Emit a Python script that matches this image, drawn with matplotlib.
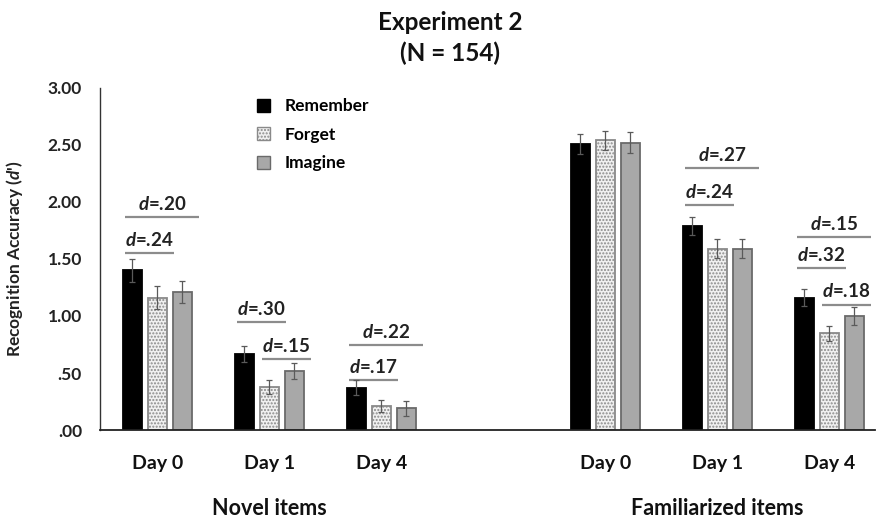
import numpy as np
import matplotlib.pyplot as plt
import matplotlib.transforms as mtransforms
from matplotlib.patches import Patch

plt.rcParams['font.family'] = ['Lato', 'DejaVu Sans']
plt.rcParams['mathtext.fontset'] = 'custom'
plt.rcParams['mathtext.it'] = 'Lato:italic:bold'
plt.rcParams['mathtext.rm'] = 'Lato:bold'
plt.rcParams['mathtext.bf'] = 'Lato:bold'

# ---------------- data ----------------
conditions = ["Remember", "Forget", "Imagine"]
days = ["Day 0", "Day 1", "Day 4"]
item_types = ["Novel items", "Familiarized items"]

novel_remember = [1.40, 0.67, 0.37]
novel_forget = [1.16, 0.38, 0.21]
novel_imagine = [1.21, 0.52, 0.19]
fam_remember = [2.51, 1.79, 1.16]
fam_forget = [2.54, 1.59, 0.85]
fam_imagine = [2.52, 1.59, 1.00]

novel_remember_err = [0.10, 0.07, 0.065]
novel_forget_err = [0.10, 0.06, 0.055]
novel_imagine_err = [0.10, 0.07, 0.065]
fam_remember_err = [0.09, 0.08, 0.075]
fam_forget_err = [0.085, 0.085, 0.065]
fam_imagine_err = [0.09, 0.085, 0.075]

# effect sizes: (group index, from condition, to condition, line level, label)
effects = [
    (0, 0, 2, 1.87, ".20"),
    (0, 0, 1, 1.555, ".24"),
    (1, 0, 1, 0.95, ".30"),
    (1, 1, 2, 0.62, ".15"),
    (2, 0, 2, 0.745, ".22"),
    (2, 0, 1, 0.44, ".17"),
    (4, 0, 2, 2.30, ".27"),
    (4, 0, 1, 1.97, ".24"),
    (5, 0, 2, 1.69, ".15"),
    (5, 0, 1, 1.42, ".32"),
    (5, 1, 2, 1.10, ".18"),
]

y_ticks = [0.0, 0.5, 1.0, 1.5, 2.0, 2.5, 3.0]
y_ticklabels = [".00", ".50", "1.00", "1.50", "2.00", "2.50", "3.00"]

# ---------------- layout ----------------
values = [novel_remember + fam_remember,
          novel_forget + fam_forget,
          novel_imagine + fam_imagine]
errors = [novel_remember_err + fam_remember_err,
          novel_forget_err + fam_forget_err,
          novel_imagine_err + fam_imagine_err]
group_pos = np.array([0, 1, 2, 4, 5, 6], dtype=float)
offset = 0.223
width = 0.174

styles = [
    dict(facecolor='#000000', edgecolor='#000000', hatch=None),
    dict(facecolor='#f0f0f0', edgecolor='#8a8a8a', hatch='.....'),
    dict(facecolor='#a8a8a8', edgecolor='#6a6a6a', hatch=None),
]

fig = plt.figure(figsize=(8.77, 5.2), dpi=100)
ax = fig.add_axes([0.114, 0.173, 0.884, 0.658])

for i in range(3):
    x = group_pos + (i - 1) * offset
    ax.bar(x, values[i], width=width, linewidth=1.3, zorder=2, **styles[i])
    ax.errorbar(x, values[i], yerr=errors[i], fmt='none', ecolor='#5a5a5a',
                elinewidth=0.9, capsize=2.5, capthick=0.9, zorder=3)

for g, a, b, lvl, lab in effects:
    xc = group_pos[g]
    x0 = xc + (a - 1) * offset - 0.065
    x1 = xc + (b - 1) * offset + 0.145
    ax.plot([x0, x1], [lvl, lvl], color='#8c8c8c', lw=1.6, solid_capstyle='butt', zorder=2)
    ax.annotate(r"$d$=" + lab, xy=((x0 + x1) / 2, lvl), xytext=(0, 3.0),
                textcoords='offset points', ha='center', va='bottom',
                fontsize=13.5, fontweight='bold', color='#222222')

ax.set_xlim(-0.513, 6.41)
ax.set_ylim(0, 3)
ax.set_yticks(y_ticks)
ax.set_yticklabels(y_ticklabels, fontsize=12.5, fontweight='bold', color='#222222')
ax.set_xticks(group_pos)
ax.set_xticklabels(days + days, fontsize=14, fontweight='bold', color='#111111')
ax.tick_params(axis='y', length=0, pad=13)
ax.tick_params(axis='x', length=0, pad=18)
for s in ['top', 'right']:
    ax.spines[s].set_visible(False)
ax.spines['left'].set_color('#333333')
ax.spines['left'].set_linewidth(1.0)
ax.spines['bottom'].set_color('#222222')
ax.spines['bottom'].set_linewidth(1.3)

trans = mtransforms.blended_transform_factory(ax.transData, ax.transAxes)
ax.text(1, -0.228, item_types[0], transform=trans, ha='center', va='center',
        fontsize=15.5, fontweight='bold', color='#111111')
ax.text(5, -0.228, item_types[1], transform=trans, ha='center', va='center',
        fontsize=15.5, fontweight='bold', color='#111111')

ax.set_ylabel(r"Recognition Accuracy ($d$')", fontsize=12.5, fontweight='bold',
              color='#222222')
ax.yaxis.set_label_coords(-0.097, 0.5)

handles = [Patch(facecolor=s['facecolor'], edgecolor=s['edgecolor'],
                 hatch=s['hatch'], linewidth=1.0) for s in styles]
ax.legend(handles, conditions, loc='upper left', bbox_to_anchor=(0.183, 1.015),
          frameon=False, handlelength=0.75, handleheight=0.75, handletextpad=0.8,
          labelspacing=0.72, prop=dict(size=12.5, weight='bold'))

fig.text(0.513, 1 - 22 / 520, "Experiment 2", ha='center', va='center',
         fontsize=17.5, fontweight='bold', color='#111111')
fig.text(0.513, 1 - 53 / 520, "(N = 154)", ha='center', va='center',
         fontsize=17.5, fontweight='bold', color='#111111')

fig.savefig('out.png', dpi=100)
